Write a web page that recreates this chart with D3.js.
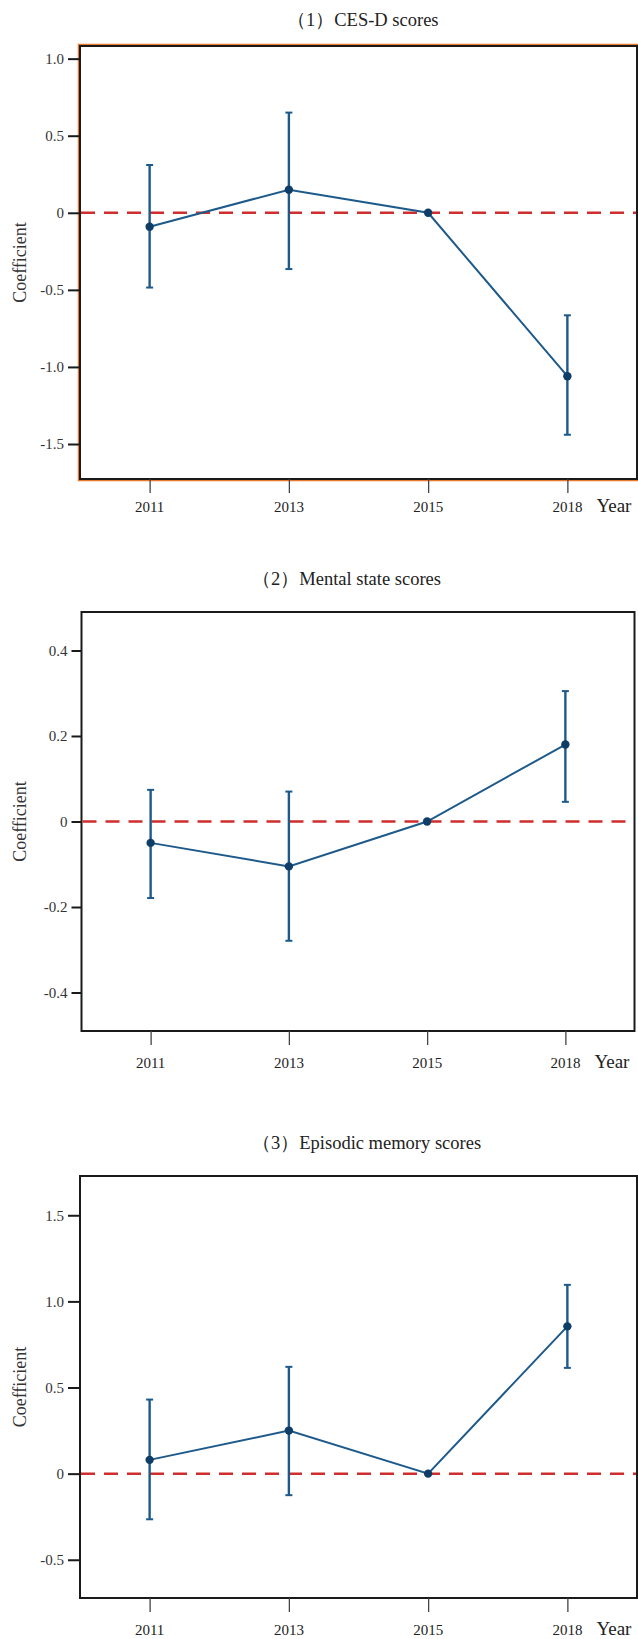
<!DOCTYPE html>
<html>
<head>
<meta charset="utf-8">
<script src="https://cdn.jsdelivr.net/npm/d3@7"></script>
<style>
  body { margin: 0; background: #fff; }
  svg text { font-family: "Liberation Serif", "Times New Roman", Times, "DejaVu Serif", serif; }
</style>
</head>
<body>
<div id="chart"></div>
<script>
// Years on the x axis
const years = ["2011", "2013", "2015", "2018"];

// (1) CES-D scores
const cesdEst = [-0.09, 0.15, 0, -1.06];
const cesdLow = [-0.485, -0.365, 0, -1.44];
const cesdHigh = [0.31, 0.65, 0, -0.665];
const cesdTicks = [1.0, 0.5, 0, -0.5, -1.0, -1.5];

// (2) Mental state scores
const mentalEst = [-0.05, -0.105, 0, 0.18];
const mentalLow = [-0.179, -0.279, 0, 0.046];
const mentalHigh = [0.074, 0.070, 0, 0.305];
const mentalTicks = [0.4, 0.2, 0, -0.2, -0.4];

// (3) Episodic memory scores
const memoryEst = [0.08, 0.25, 0, 0.855];
const memoryLow = [-0.265, -0.125, 0, 0.614];
const memoryHigh = [0.43, 0.62, 0, 1.096];
const memoryTicks = [1.5, 1.0, 0.5, 0, -0.5];

const titles = ["（1）CES-D scores", "（2）Mental state scores", "（3）Episodic memory scores"];

const width = 638, height = 1639;
const serif = '"Liberation Serif", "Times New Roman", Times, serif';

// layout of each panel on the page
const panels = [
  { title: titles[0], est: cesdEst, low: cesdLow, high: cesdHigh, ticks: cesdTicks,
    domain: [-1.727, 1.082], top: 46, bottom: 479, left: 80, right: 637,
    titleX: 287, titleY: 26, labelGap: 33, tickLen: 12, orange: true },
  { title: titles[1], est: mentalEst, low: mentalLow, high: mentalHigh, ticks: mentalTicks,
    domain: [-0.49, 0.49], top: 612, bottom: 1031, left: 81.5, right: 634.5,
    titleX: 252, titleY: 585, labelGap: 37, tickLen: 10, orange: false },
  { title: titles[2], est: memoryEst, low: memoryLow, high: memoryHigh, ticks: memoryTicks,
    domain: [-0.722, 1.728], top: 1176, bottom: 1598, left: 80, right: 637,
    titleX: 252, titleY: 1149, labelGap: 37, tickLen: 12, orange: false }
];

const svg = d3.select("#chart").append("svg")
  .attr("width", width)
  .attr("height", height)
  .attr("font-family", serif);

const lineColor = "#1d5a8b";
const dotColor = "#0e3d68";

panels.forEach(p => {
  const g = svg.append("g");

  const x = d3.scalePoint()
    .domain(years)
    .range([p.left, p.right])
    .padding(0.5);

  const y = d3.scaleLinear()
    .domain(p.domain)
    .range([p.bottom, p.top]);

  // title
  g.append("text")
    .attr("x", p.titleX)
    .attr("y", p.titleY)
    .attr("font-size", 18.5)
    .attr("fill", "#222")
    .text(p.title);

  // frame
  if (p.orange) {
    g.append("rect")
      .attr("x", p.left - 1.5).attr("y", p.top - 1.5)
      .attr("width", p.right - p.left + 3).attr("height", p.bottom - p.top + 3)
      .attr("fill", "none").attr("stroke", "#e87a2e").attr("stroke-width", 1.5);
  }
  g.append("rect")
    .attr("x", p.left).attr("y", p.top)
    .attr("width", p.right - p.left).attr("height", p.bottom - p.top)
    .attr("fill", "none").attr("stroke", "#1a1a1a").attr("stroke-width", 2);

  // y axis
  const yAxis = g.append("g")
    .attr("transform", `translate(${p.left},0)`)
    .call(d3.axisLeft(y)
      .tickValues(p.ticks)
      .tickSize(p.tickLen)
      .tickSizeOuter(0)
      .tickPadding(4)
      .tickFormat(d => d === 0 ? "0" : d.toFixed(1)));
  yAxis.select(".domain").remove();
  yAxis.selectAll(".tick line").attr("stroke", "#1a1a1a").attr("stroke-width", 2);
  yAxis.selectAll(".tick text").attr("font-size", 15).attr("fill", "#333")
    .attr("font-family", serif);

  // x axis
  const xAxis = g.append("g")
    .attr("transform", `translate(0,${p.bottom})`)
    .call(d3.axisBottom(x).tickSize(14).tickSizeOuter(0).tickFormat(""));
  xAxis.select(".domain").remove();
  xAxis.selectAll(".tick line").attr("stroke", "#444").attr("stroke-width", 1.3);

  g.selectAll(".xlab")
    .data(years)
    .join("text")
    .attr("x", d => x(d))
    .attr("y", p.bottom + p.labelGap)
    .attr("text-anchor", "middle")
    .attr("font-size", 15)
    .attr("fill", "#222")
    .text(d => d);

  g.append("text")
    .attr("x", x(years[3]) + 29)
    .attr("y", p.bottom + p.labelGap)
    .attr("font-size", 19)
    .attr("fill", "#222")
    .text("Year");

  // y label
  g.append("text")
    .attr("transform", `translate(26,${(p.top + p.bottom) / 2}) rotate(-90)`)
    .attr("text-anchor", "middle")
    .attr("font-size", 18)
    .attr("fill", "#333")
    .text("Coefficient");

  // reference line at zero
  g.append("line")
    .attr("x1", p.left + 1).attr("x2", p.right - 1)
    .attr("y1", y(0)).attr("y2", y(0))
    .attr("stroke", "#cf2e2e")
    .attr("stroke-width", 2.5)
    .attr("stroke-dasharray", "14,9");

  const rows = years.map((yr, i) => ({ yr, est: p.est[i], low: p.low[i], high: p.high[i] }));

  // error bars (the reference year has none)
  const bars = rows.filter(d => d.low !== d.high);
  g.selectAll(".err")
    .data(bars)
    .join("line")
    .attr("x1", d => x(d.yr)).attr("x2", d => x(d.yr))
    .attr("y1", d => y(d.low)).attr("y2", d => y(d.high))
    .attr("stroke", lineColor).attr("stroke-width", 2.4);
  ["low", "high"].forEach(k => {
    g.selectAll(".cap-" + k)
      .data(bars)
      .join("line")
      .attr("x1", d => x(d.yr) - 3.5).attr("x2", d => x(d.yr) + 3.5)
      .attr("y1", d => y(d[k])).attr("y2", d => y(d[k]))
      .attr("stroke", lineColor).attr("stroke-width", 2);
  });

  // estimate line
  g.append("path")
    .datum(rows)
    .attr("fill", "none")
    .attr("stroke", lineColor)
    .attr("stroke-width", 2)
    .attr("d", d3.line().x(d => x(d.yr)).y(d => y(d.est)));

  g.selectAll(".dot")
    .data(rows)
    .join("circle")
    .attr("cx", d => x(d.yr))
    .attr("cy", d => y(d.est))
    .attr("r", 4.2)
    .attr("fill", dotColor);
});
</script>
</body>
</html>
